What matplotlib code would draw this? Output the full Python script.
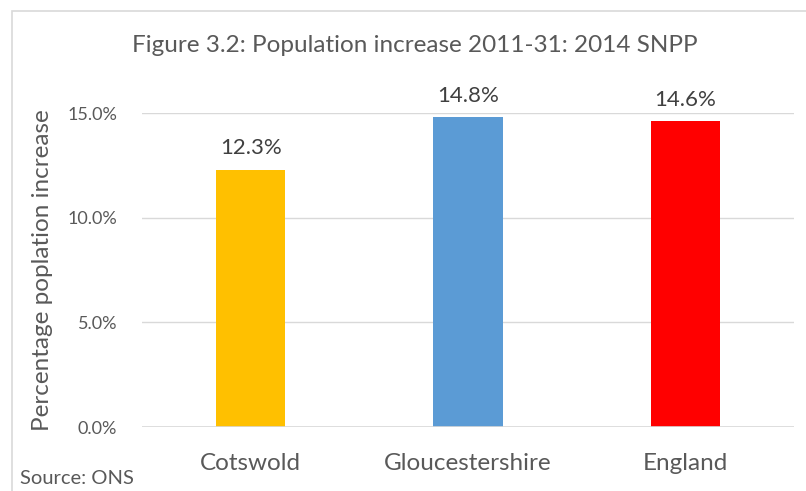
import matplotlib.pyplot as plt
from matplotlib.patches import Rectangle
from matplotlib.ticker import PercentFormatter

plt.rcParams['font.family'] = ['Lato', 'DejaVu Sans']

areas = ['Cotswold', 'Gloucestershire', 'England']
increase = [12.3, 14.8, 14.6]
bar_colors = ['#FFC000', '#5B9BD5', '#FF0000']
yticks = [0, 5, 10, 15]

grey = '#595959'

fig = plt.figure(figsize=(8.06, 4.91), dpi=100)
W, H = 806, 491

# chart frame
fig.patches.append(Rectangle((12 / W, -0.05), 1.0, 1 - 11 / H + 0.05,
                             transform=fig.transFigure, fill=False,
                             edgecolor='#D9D9D9', linewidth=1.2))

ax = fig.add_axes([142 / W, 1 - 427 / H, (794 - 142) / W, (427 - 113) / H])
x = range(len(areas))
bars = ax.bar(x, increase, width=0.32, color=bar_colors, zorder=2)
ax.set_xlim(-0.5, len(areas) - 0.5)
ax.set_ylim(0, 15)
ax.set_yticks(yticks)
ax.yaxis.set_major_formatter(PercentFormatter(decimals=1))
ax.set_xticks(list(x))
ax.set_xticklabels(areas, fontsize=17.5, color=grey)
ax.tick_params(axis='y', labelsize=13, labelcolor=grey, length=0, pad=18)
ax.tick_params(axis='x', length=0, pad=19)
ax.grid(axis='y', color='#D9D9D9', linewidth=1, zorder=0)
for s in ax.spines.values():
    s.set_visible(False)
ax.axhline(0, color='#D9D9D9', linewidth=1.2, zorder=3)

for b, v in zip(bars, increase):
    ax.annotate(f'{v:.1f}%', (b.get_x() + b.get_width() / 2, v),
                xytext=(0, 8), textcoords='offset points', ha='center',
                va='bottom', fontsize=16, color='#404040', clip_on=False)

ax.set_ylabel('Percentage poplation increase', fontsize=17.5, color=grey, labelpad=10)
fig.text(415 / W, 1 - 45 / H, 'Figure 3.2: Population increase 2011-31: 2014 SNPP',
         ha='center', va='center', fontsize=17.5, color=grey)
fig.text(20 / W, 1 - 478 / H, 'Source: ONS', ha='left', va='center',
         fontsize=14.5, color=grey)

fig.savefig('out.png', dpi=100)
